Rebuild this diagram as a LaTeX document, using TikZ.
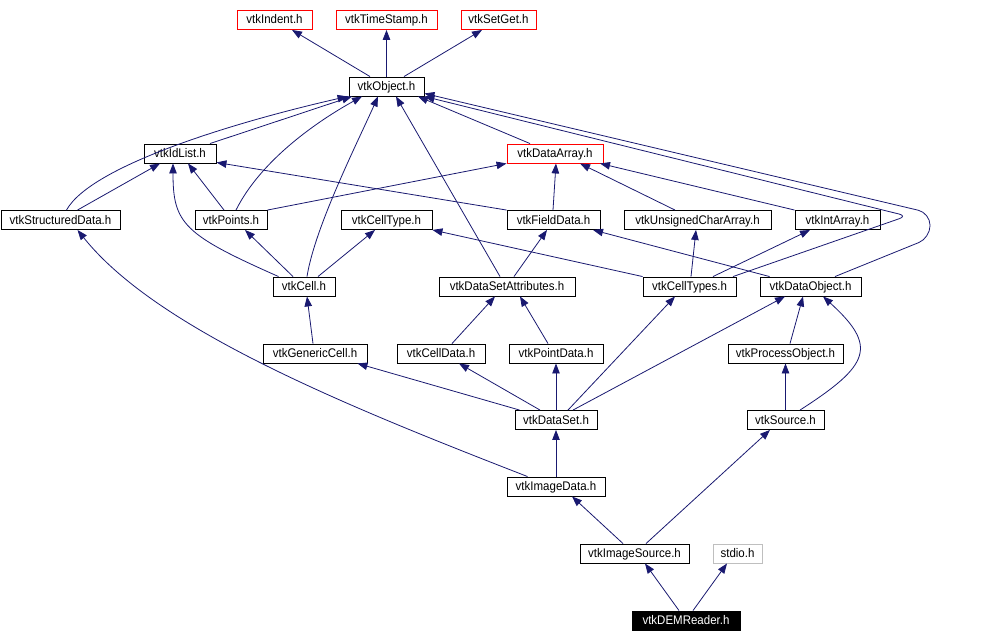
\documentclass[tikz,border=0pt]{standalone}
\usepackage{fontspec}
\setmainfont{Liberation Sans}[FakeStretch=0.92]
\usetikzlibrary{arrows.meta}
\definecolor{edgeblue}{RGB}{25,25,112}
\definecolor{boxgray}{RGB}{191,191,191}
\begin{document}
\begin{tikzpicture}[x=1pt,y=-1pt,
  hdr/.style={draw=black,line width=0.9pt,fill=white,minimum height=19pt,inner sep=0pt,
    text height=9.5pt,text depth=1.5pt,font=\fontsize{12.5}{15}\selectfont},
  redhdr/.style={hdr,draw=red},
  dep/.style={draw=edgeblue,line width=0.8pt,-{Triangle[length=10pt,width=7.5pt]}}]
\useasboundingbox (0,0) rectangle (984,642);
% headers, one row per level
\node[redhdr,minimum width=75pt] (indent) at (274.5,20) {vtkIndent.h};
\node[redhdr,minimum width=101pt] (tstamp) at (386.5,20) {vtkTimeStamp.h};
\node[redhdr,minimum width=75pt] (setget) at (498.5,20) {vtkSetGet.h};
\node[hdr,minimum width=75pt] (obj) at (386.5,86.5) {vtkObject.h};
\node[hdr,minimum width=72pt] (idlist) at (180,153.5) {vtkIdList.h};
\node[redhdr,minimum width=96pt] (darray) at (555,153.5) {vtkDataArray.h};
\node[hdr,minimum width=119pt] (sdata) at (60.5,220) {vtkStructuredData.h};
\node[hdr,minimum width=72pt] (points) at (231,220) {vtkPoints.h};
\node[hdr,minimum width=91pt] (celltype) at (386.5,220) {vtkCellType.h};
\node[hdr,minimum width=93pt] (fdata) at (553.5,220) {vtkFieldData.h};
\node[hdr,minimum width=147pt] (ucarray) at (697.5,220) {vtkUnsignedCharArray.h};
\node[hdr,minimum width=85pt] (intarray) at (837.5,220) {vtkIntArray.h};
\node[hdr,minimum width=62pt] (cell) at (304,286.5) {vtkCell.h};
\node[hdr,minimum width=136pt] (dsattr) at (507,286.5) {vtkDataSetAttributes.h};
\node[hdr,minimum width=93pt] (celltypes) at (689.5,286.5) {vtkCellTypes.h};
\node[hdr,minimum width=101pt] (dobj) at (810.5,286.5) {vtkDataObject.h};
\node[hdr,minimum width=104pt] (gcell) at (315,353.5) {vtkGenericCell.h};
\node[hdr,minimum width=88pt] (celldata) at (441,353.5) {vtkCellData.h};
\node[hdr,minimum width=94pt] (pdata) at (556,353.5) {vtkPointData.h};
\node[hdr,minimum width=115pt] (procobj) at (785.5,353.5) {vtkProcessObject.h};
\node[hdr,minimum width=82pt] (dset) at (556,420) {vtkDataSet.h};
\node[hdr,minimum width=77pt] (source) at (785.5,420) {vtkSource.h};
\node[hdr,minimum width=98pt] (idata) at (556,486.5) {vtkImageData.h};
\node[hdr,minimum width=109pt] (isource) at (634.5,553.5) {vtkImageSource.h};
\node[hdr,draw=boxgray,minimum width=49pt] (stdio) at (737.5,553.5) {stdio.h};
\node[hdr,fill=black,text=white,minimum width=108pt] (dem) at (686,620.5) {vtkDEMReader.h};
% bends of the two long edges on the right
\coordinate (ctbend) at (907,216);
\coordinate (dobend1) at (930,238);
\coordinate (dobend2) at (930,213);
% include edges, arrow at the included header
\draw[dep] ([xshift=-16.5pt]obj.north) -- ([xshift=17.5pt]indent.south);
\draw[dep] (obj) -- (tstamp);
\draw[dep] ([xshift=17.5pt]obj.north) -- ([xshift=-16.5pt]setget.south);
\draw[dep] ([xshift=30pt]idlist.north) -- ([xshift=-34.5pt]obj.south);
\draw[dep] ([xshift=6pt]sdata.north) .. controls +(25,-45) and +(-110,25) .. ([xshift=-1pt]obj.south west);
\draw[dep] ([xshift=5pt]points.north) .. controls +(25,-50) and +(-45,25) .. ([xshift=-24.5pt]obj.south);
\draw[dep] ([xshift=3pt]cell.north) .. controls +(8,-50) and +(-20,45) .. ([xshift=-8.5pt]obj.south);
\draw[dep] ([xshift=-7pt]dsattr.north) -- ([xshift=9.5pt]obj.south);
\draw[dep] ([xshift=-25pt]darray.north) -- ([xshift=31.5pt]obj.south);
\draw[dep,rounded corners=8pt] ([xshift=43.5pt]celltypes.north) -- (ctbend) -- (obj.south east);
\draw[dep,rounded corners=12pt] ([xshift=24.5pt]dobj.north) -- (dobend1) -- (dobend2) -- ([yshift=3pt]obj.south east);
\draw[dep] (points.north east) -- (darray.south west);
\draw[dep] ([xshift=-0.5pt]fdata.north) -- ([xshift=1pt]darray.south);
\draw[dep] ([xshift=-22.5pt]ucarray.north) -- ([xshift=25pt]darray.south);
\draw[dep] (intarray.north west) -- ([xshift=45pt]darray.south);
\draw[dep] ([xshift=17pt]sdata.north) -- ([xshift=-20pt]idlist.south);
\draw[dep] ([xshift=6pt]cell.north west) .. controls +(-95,-42) and +(0,60) .. ([xshift=-7pt]idlist.south);
\draw[dep] ([xshift=-7pt]points.north) -- ([xshift=8pt]idlist.south);
\draw[dep] (fdata.north west) -- ([yshift=1pt]idlist.south east);
\draw[dep] ([xshift=-11pt]cell.north) -- ([xshift=14pt]points.south);
\draw[dep] ([xshift=14pt]cell.north) -- ([xshift=-11.5pt]celltype.south);
\draw[dep] (celltypes.north west) -- (celltype.south east);
\draw[dep] ([xshift=10pt]dobj.north west) -- ([xshift=39.5pt]fdata.south);
\draw[dep] ([xshift=7pt]dsattr.north) -- ([xshift=-6.5pt]fdata.south);
\draw[dep] ([xshift=1.5pt]celltypes.north) -- ([xshift=-1.5pt]ucarray.south);
\draw[dep] ([xshift=23.5pt]celltypes.north) -- ([xshift=-27.5pt]intarray.south);
\draw[dep] ([xshift=-2pt]gcell.north) -- ([xshift=3pt]cell.south);
\draw[dep] ([xshift=11pt]celldata.north) -- ([xshift=-12pt]dsattr.south);
\draw[dep] ([xshift=-8pt]pdata.north) -- ([xshift=13pt]dsattr.south);
\draw[dep] ([xshift=5pt]dset.north west) -- ([xshift=-10pt]gcell.south east);
\draw[dep] ([xshift=-16pt]dset.north) -- ([xshift=18pt]celldata.south);
\draw[dep] (dset) -- (pdata);
\draw[dep] ([xshift=12pt]dset.north) -- ([xshift=-14.5pt]celltypes.south);
\draw[dep] ([xshift=17pt]dset.north) -- ([xshift=-25.5pt]dobj.south);
\draw[dep] ([xshift=4.5pt]procobj.north) -- ([xshift=-7.5pt]dobj.south);
\draw[dep] ([xshift=14.5pt]source.north) .. controls +(70,-45) and +(55,50) .. ([xshift=12.5pt]dobj.south);
\draw[dep] (source) -- (procobj);
\draw[dep] (idata) -- (dset);
\draw[dep] ([xshift=21pt]idata.north west) .. controls +(-180,-70) and +(80,100) .. ([xshift=17pt]sdata.south);
\draw[dep] ([xshift=-11.5pt]isource.north) -- ([xshift=16pt]idata.south);
\draw[dep] ([xshift=11.5pt]isource.north) -- ([xshift=-15.5pt]source.south);
\draw[dep] ([xshift=-7pt]dem.north) -- ([xshift=10.5pt]isource.south);
\draw[dep] ([xshift=7pt]dem.north) -- ([xshift=-10.5pt]stdio.south);
\end{tikzpicture}
\end{document}
